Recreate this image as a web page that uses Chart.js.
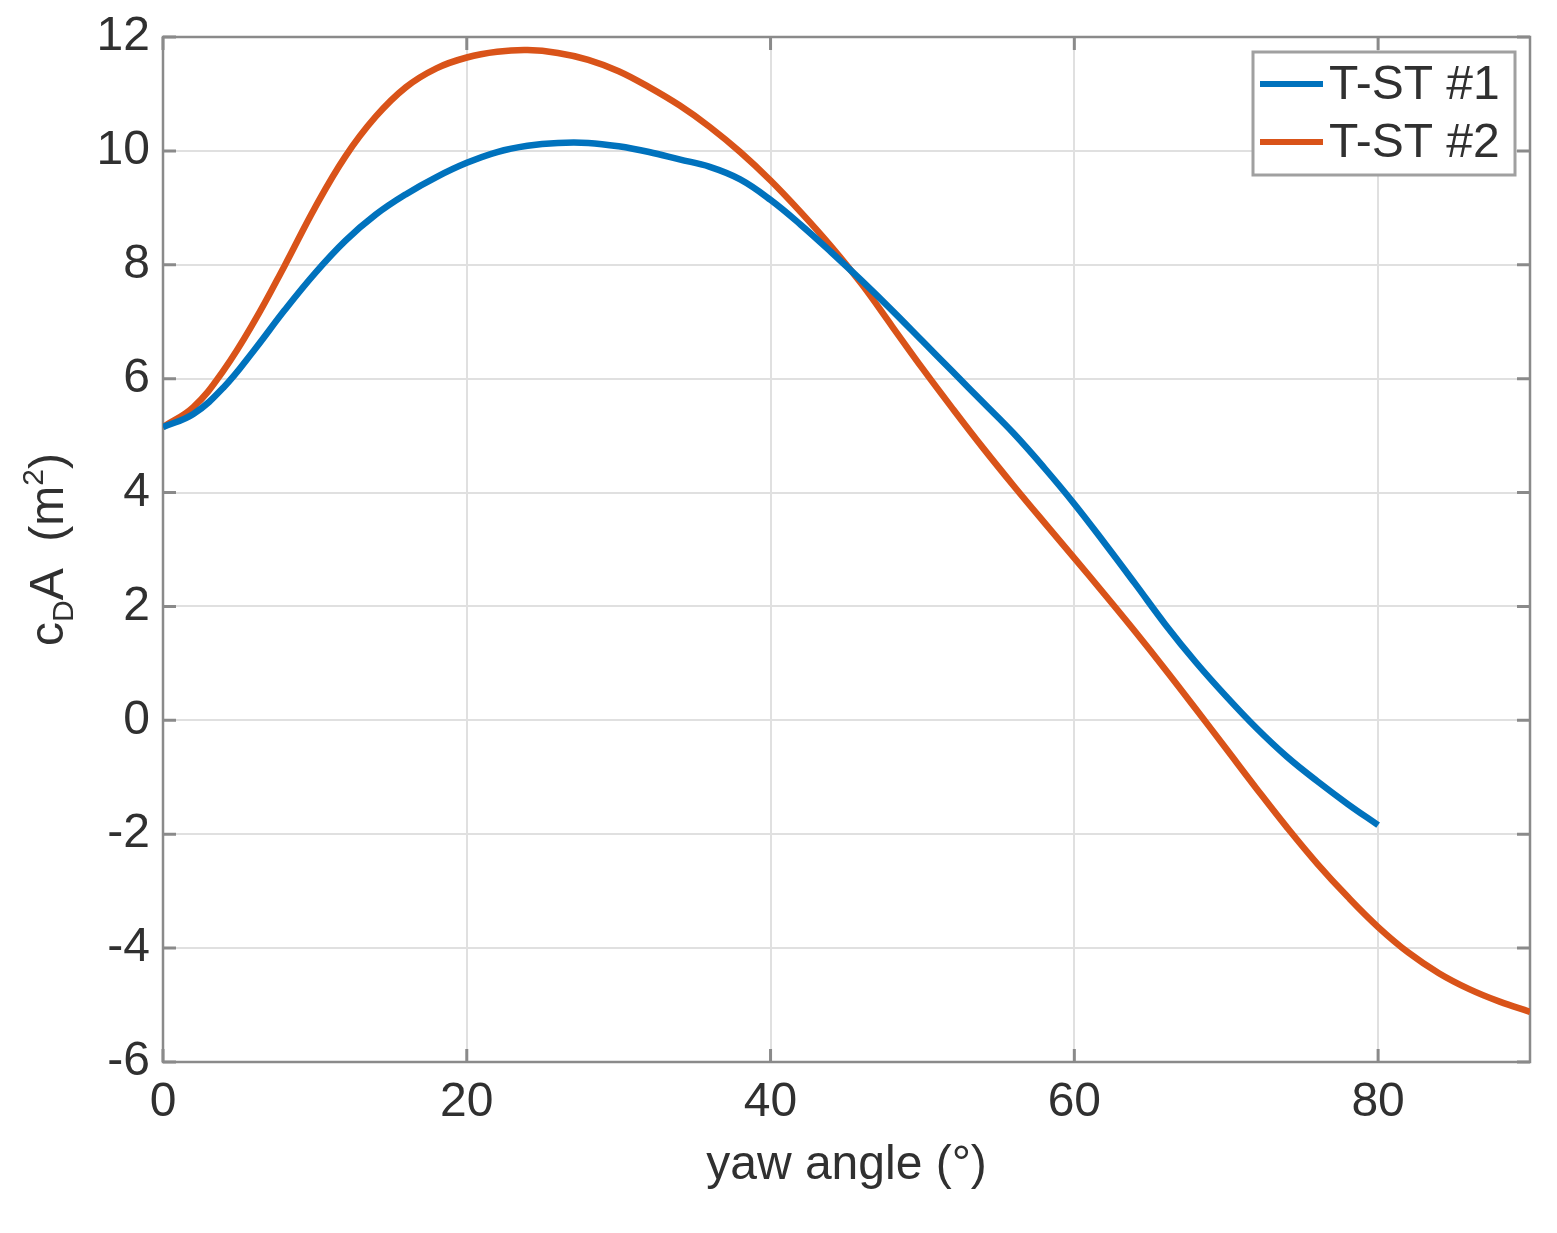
<!DOCTYPE html>
<html>
<head>
<meta charset="utf-8">
<script src="https://cdn.jsdelivr.net/npm/chart.js@4.4.0/dist/chart.umd.min.js"></script>
<style>
  html, body { margin: 0; padding: 0; background: #fff; }
  #wrap { width: 1557px; height: 1233px; }
</style>
</head>
<body>
<div id="wrap"><canvas id="cdaChart" width="1557" height="1233"></canvas></div>
<script>
// values
const yawAngles1 = [0, 2, 4, 6, 8, 10, 12, 14, 16, 18, 20, 22, 24, 26, 28, 30, 32, 34, 36, 38, 40,
  42, 44, 46, 48, 50, 52, 54, 56, 58, 60, 62, 64, 66, 68, 70, 72, 74, 76, 78, 80];
const cdaTst1 = [5.15, 5.38, 5.85, 6.5, 7.2, 7.85, 8.42, 8.88, 9.24, 9.54, 9.79, 9.98, 10.09, 10.14, 10.14, 10.08, 9.98, 9.85, 9.72, 9.5, 9.14,
  8.7, 8.22, 7.72, 7.2, 6.66, 6.12, 5.58, 5.04, 4.44, 3.8, 3.11, 2.4, 1.68, 1.02, 0.42, -0.14, -0.64, -1.07, -1.47, -1.84];

const yawAngles2 = [0, 2, 4, 6, 8, 10, 12, 14, 16, 18, 20, 22, 24, 26, 28, 30, 32, 34, 36, 38, 40,
  42, 44, 46, 48, 50, 52, 54, 56, 58, 60, 62, 64, 66, 68, 70, 72, 74, 76, 78, 80, 82, 84, 86, 88, 90];
const cdaTst2 = [5.15, 5.5, 6.15, 7.0, 7.98, 9.0, 9.9, 10.6, 11.12, 11.45, 11.64, 11.74, 11.77, 11.72, 11.6, 11.4, 11.12, 10.8, 10.42, 9.98, 9.48,
  8.92, 8.32, 7.66, 6.92, 6.18, 5.47, 4.78, 4.12, 3.48, 2.85, 2.21, 1.56, 0.89, 0.2, -0.5, -1.2, -1.88, -2.52, -3.1, -3.63, -4.08, -4.44, -4.72, -4.94, -5.12];

const seriesLabels = ["T-ST #1", "T-ST #2"];
const seriesColors = ["#0072BD", "#D95319"];
const xTicks = [0, 20, 40, 60, 80];
const yTicks = [-6, -4, -2, 0, 2, 4, 6, 8, 10, 12];

const textColor = "#303030";
const axisColor = "#8a8a8a";
const gridColor = "#e0e0e0";
const fontFamily = "'Liberation Sans', Arial, sans-serif";

function toPoints(xs, ys) {
  return xs.map((x, i) => ({ x: x, y: ys[i] }));
}

// box around the axes plus inward tick marks, like matlab
const framePlugin = {
  id: "frame",
  beforeDatasetsDraw(chart) {
    const { ctx, chartArea: a, scales } = chart;
    ctx.save();
    ctx.strokeStyle = axisColor;
    ctx.lineWidth = 2.5;
    ctx.strokeRect(a.left, a.top, a.right - a.left, a.bottom - a.top);
    ctx.lineWidth = 3;
    const len = 13;
    ctx.beginPath();
    yTicks.forEach(v => {
      const y = scales.y.getPixelForValue(v);
      ctx.moveTo(a.left, y); ctx.lineTo(a.left + len, y);
      ctx.moveTo(a.right, y); ctx.lineTo(a.right - len, y);
    });
    xTicks.forEach(v => {
      const x = scales.x.getPixelForValue(v);
      ctx.moveTo(x, a.bottom); ctx.lineTo(x, a.bottom - len);
      ctx.moveTo(x, a.top); ctx.lineTo(x, a.top + len);
    });
    ctx.stroke();
    ctx.restore();
  }
};

// y title with subscript D and superscript 2
const yTitlePlugin = {
  id: "yTitle",
  afterDraw(chart) {
    const ctx = chart.ctx;
    const a = chart.chartArea;
    const parts = [
      { t: "c", size: 48, dy: 0 },
      { t: "D", size: 30, dy: 10 },
      { t: "A", size: 48, dy: 0 },
      { t: "  (m", size: 48, dy: 0 },
      { t: "2", size: 30, dy: -20 },
      { t: ")", size: 48, dy: 0 }
    ];
    ctx.save();
    let total = 0;
    parts.forEach(p => {
      ctx.font = p.size + "px " + fontFamily;
      p.w = ctx.measureText(p.t).width;
      total += p.w;
    });
    const cy = (a.top + a.bottom) / 2;
    ctx.translate(63, cy);
    ctx.rotate(-Math.PI / 2);
    ctx.fillStyle = textColor;
    ctx.textBaseline = "alphabetic";
    let x = -total / 2;
    parts.forEach(p => {
      ctx.font = p.size + "px " + fontFamily;
      ctx.fillText(p.t, x, p.dy);
      x += p.w;
    });
    ctx.restore();
  }
};

const legendPlugin = {
  id: "boxLegend",
  afterDraw(chart) {
    const ctx = chart.ctx;
    const left = 1253, top = 52, w = 262, h = 123;
    ctx.save();
    ctx.fillStyle = "#fff";
    ctx.fillRect(left, top, w, h);
    ctx.strokeStyle = "#a0a0a0";
    ctx.lineWidth = 3;
    ctx.strokeRect(left, top, w, h);
    ctx.font = "48px " + fontFamily;
    ctx.textBaseline = "middle";
    ctx.textAlign = "left";
    chart.data.datasets.forEach((ds, i) => {
      const y = top + 32 + i * 58;
      ctx.strokeStyle = ds.borderColor;
      ctx.lineWidth = 6;
      ctx.beginPath();
      ctx.moveTo(left + 7, y);
      ctx.lineTo(left + 70, y);
      ctx.stroke();
      ctx.fillStyle = textColor;
      ctx.fillText(ds.label, left + 76, y + 2);
    });
    ctx.restore();
  }
};

const ctx = document.getElementById("cdaChart").getContext("2d");
new Chart(ctx, {
  type: "line",
  data: {
    datasets: [
      {
        label: seriesLabels[0],
        data: toPoints(yawAngles1, cdaTst1),
        borderColor: seriesColors[0],
        borderWidth: 6.5,
        pointRadius: 0,
        tension: 0.4,
        fill: false
      },
      {
        label: seriesLabels[1],
        data: toPoints(yawAngles2, cdaTst2),
        borderColor: seriesColors[1],
        borderWidth: 6.5,
        pointRadius: 0,
        tension: 0.4,
        fill: false
      }
    ]
  },
  options: {
    responsive: false,
    animation: false,
    layout: { autoPadding: false, padding: { left: 0, top: 37, right: 27, bottom: 0 } },
    plugins: {
      legend: { display: false },
      tooltip: { enabled: false }
    },
    scales: {
      x: {
        type: "linear",
        min: 0,
        max: 90,
        afterBuildTicks: s => { s.ticks = xTicks.map(v => ({ value: v })); },
        afterFit: s => { s.height = 171; },
        grid: { color: gridColor, lineWidth: 2, drawTicks: false },
        border: { display: false },
        ticks: { color: textColor, font: { family: fontFamily, size: 48 }, padding: 12, maxRotation: 0 },
        title: {
          display: true,
          text: "yaw angle (°)",
          color: textColor,
          font: { family: fontFamily, size: 48 },
          padding: { top: 0, bottom: 38 }
        }
      },
      y: {
        type: "linear",
        min: -6,
        max: 12,
        afterBuildTicks: s => { s.ticks = yTicks.map(v => ({ value: v })); },
        afterFit: s => { s.width = 163; },
        grid: { color: gridColor, lineWidth: 2, drawTicks: false },
        border: { display: false },
        ticks: { color: textColor, font: { family: fontFamily, size: 48, lineHeight: 1 }, padding: 13 }
      }
    }
  },
  plugins: [framePlugin, yTitlePlugin, legendPlugin]
});
</script>
</body>
</html>
